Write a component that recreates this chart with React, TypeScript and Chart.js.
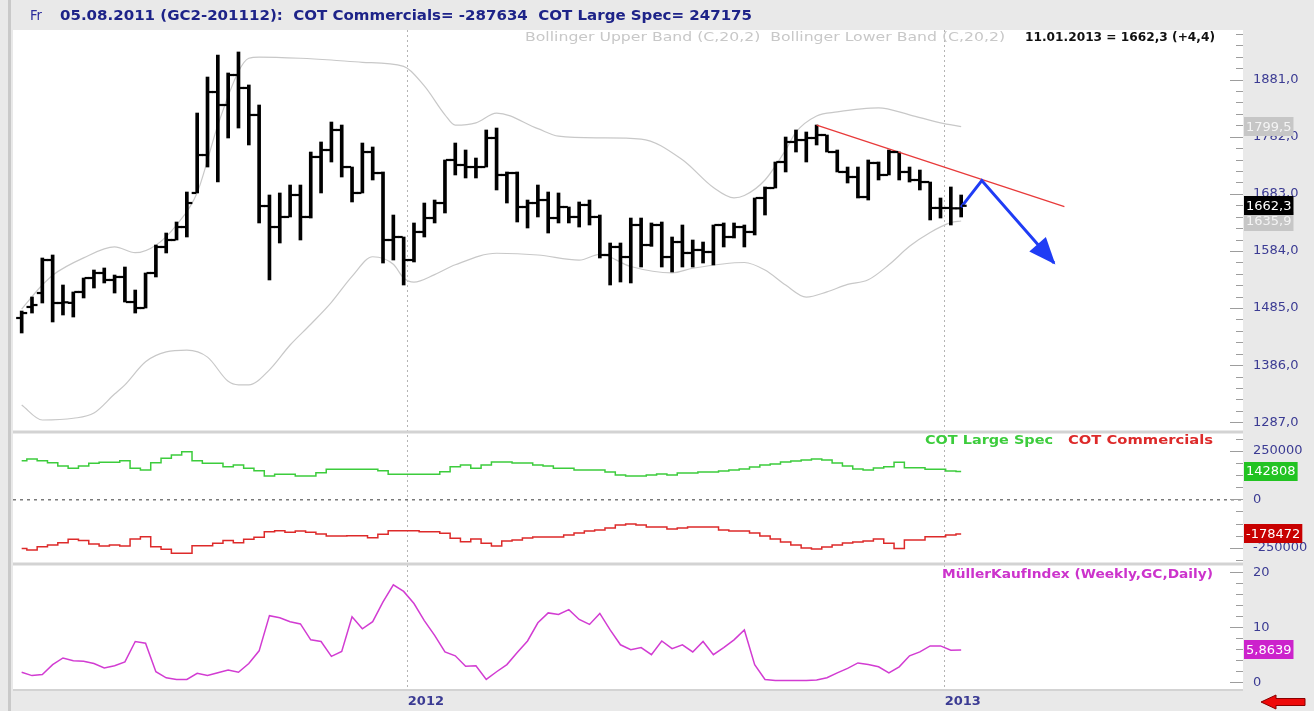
import React, { useEffect, useRef } from 'react';
import { Chart, registerables } from 'chart.js';

Chart.register(...registerables);

// ---------- DATA ----------
// Weekly OHLC bars (GC2), first bar mid-April 2011, last bar 11.01.2013
const barOpen = [
  1467.8, 1486.9, 1511.1, 1568.3, 1493.8, 1494.0, 1512.9, 1537.1, 1545.8, 1533.7,
  1538.9, 1495.5, 1485.1, 1545.8, 1590.9, 1603.0, 1625.5, 1684.5, 1750.3, 1859.5,
  1837.0, 1889.0, 1866.5, 1819.7, 1661.9, 1625.5, 1642.9, 1681.0, 1642.9, 1746.9,
  1759.0, 1793.7, 1729.5, 1684.5, 1755.5, 1719.1, 1603.0, 1608.2, 1568.3, 1616.9,
  1641.1, 1667.1, 1741.7, 1733.0, 1729.5, 1729.5, 1779.8, 1715.7, 1719.1, 1660.2,
  1667.1, 1672.3, 1641.1, 1660.2, 1642.9, 1663.7, 1642.9, 1577.0, 1590.9, 1573.5,
  1629.0, 1594.3, 1629.0, 1573.5, 1599.5, 1580.5, 1585.7, 1582.2, 1629.0, 1608.2,
  1625.5, 1616.9, 1675.8, 1693.1, 1738.2, 1772.9, 1776.3, 1779.8, 1785.0, 1755.5,
  1720.9, 1712.2, 1677.5, 1736.5, 1715.7, 1755.5, 1720.9, 1707.0, 1703.5, 1658.5,
  1658.5, 1657.9,
];
const barHigh = [
  1479.9, 1504.2, 1571.8, 1577.0, 1525.0, 1512.9, 1537.1, 1551.0, 1554.5, 1542.3,
  1556.2, 1516.3, 1545.8, 1594.3, 1615.1, 1634.2, 1686.2, 1823.1, 1885.5, 1923.7,
  1892.5, 1928.9, 1871.7, 1837.0, 1681.0, 1684.5, 1698.3, 1698.3, 1755.5, 1772.9,
  1807.5, 1802.3, 1729.5, 1771.1, 1764.2, 1720.9, 1646.3, 1608.2, 1632.5, 1667.1,
  1672.3, 1741.7, 1771.1, 1759.0, 1745.1, 1793.7, 1797.1, 1720.9, 1720.9, 1672.3,
  1698.3, 1686.2, 1684.5, 1660.2, 1668.9, 1672.3, 1646.3, 1597.8, 1597.8, 1641.1,
  1641.1, 1632.5, 1634.2, 1608.2, 1629.0, 1603.0, 1599.5, 1629.0, 1632.5, 1632.5,
  1629.0, 1675.8, 1694.9, 1738.2, 1781.5, 1793.7, 1790.2, 1802.3, 1785.0, 1759.0,
  1729.5, 1729.5, 1741.7, 1738.2, 1759.0, 1755.5, 1729.5, 1724.3, 1703.5, 1675.8,
  1694.9, 1681.0,
];
const barLow = [
  1441.8, 1476.4, 1493.8, 1460.9, 1473.0, 1469.5, 1502.5, 1519.8, 1528.5, 1511.1,
  1495.5, 1476.4, 1485.1, 1538.9, 1580.5, 1603.0, 1608.2, 1684.5, 1729.5, 1703.5,
  1779.8, 1797.1, 1767.7, 1632.5, 1533.7, 1597.8, 1642.9, 1603.0, 1641.1, 1684.5,
  1738.2, 1712.2, 1668.9, 1684.5, 1707.0, 1563.1, 1568.3, 1525.0, 1564.9, 1608.2,
  1632.5, 1649.8, 1715.7, 1710.5, 1710.5, 1729.5, 1689.7, 1667.1, 1634.2, 1623.8,
  1642.9, 1615.1, 1632.5, 1632.5, 1625.5, 1629.0, 1571.8, 1525.0, 1530.2, 1528.5,
  1556.2, 1592.0, 1556.2, 1547.5, 1556.2, 1556.2, 1563.1, 1559.7, 1590.9, 1606.5,
  1590.9, 1611.7, 1646.3, 1693.1, 1720.9, 1755.5, 1738.2, 1767.7, 1755.5, 1720.9,
  1701.8, 1675.8, 1672.3, 1707.0, 1715.7, 1707.0, 1703.5, 1689.7, 1637.7, 1641.1,
  1629.0, 1642.9,
];
const barClose = [
  1476.4, 1490.3, 1568.3, 1493.8, 1495.0, 1512.9, 1537.1, 1545.8, 1533.7, 1538.9,
  1495.5, 1485.1, 1545.8, 1590.9, 1603.0, 1625.5, 1667.1, 1750.3, 1859.5, 1837.0,
  1889.0, 1866.5, 1819.7, 1661.9, 1625.5, 1642.9, 1681.0, 1642.9, 1746.9, 1759.0,
  1793.7, 1729.5, 1684.5, 1755.5, 1719.1, 1603.0, 1608.2, 1568.3, 1616.9, 1641.1,
  1667.1, 1741.7, 1733.0, 1729.5, 1729.5, 1779.8, 1715.7, 1719.1, 1660.2, 1667.1,
  1672.3, 1641.1, 1660.2, 1642.9, 1663.7, 1642.9, 1577.0, 1590.9, 1573.5, 1629.0,
  1594.3, 1629.0, 1573.5, 1599.5, 1580.5, 1585.7, 1582.2, 1629.0, 1608.2, 1625.5,
  1616.9, 1675.8, 1693.1, 1738.2, 1772.9, 1776.3, 1779.8, 1785.0, 1755.5, 1720.9,
  1712.2, 1677.5, 1736.5, 1715.7, 1755.5, 1720.9, 1707.0, 1703.5, 1658.5, 1658.5,
  1657.9, 1662.3,
];

// Bollinger bands (C,20,2), read at selected bars
const bbUpperIdx = [0, 1, 2, 3, 6, 9, 11, 13, 15, 17, 19, 21, 22, 23, 27, 30, 33, 37, 39, 41, 42, 44, 46, 50, 52, 56, 60, 64, 67, 69, 70, 72, 74, 75, 77, 79, 83, 86, 89, 91];
const bbUpperVal = [1483, 1505, 1525, 1542, 1572, 1591, 1581, 1594, 1629, 1685, 1802, 1895, 1918, 1920, 1918, 1915, 1911, 1904, 1870, 1820, 1802, 1806, 1823, 1796, 1783, 1780, 1778, 1742, 1694, 1676, 1680, 1707, 1759, 1790, 1818, 1825, 1832, 1820, 1806, 1799.5];
const bbLowerIdx = [0, 2, 5, 7, 9, 10, 12, 14, 16, 18, 20, 21, 22, 24, 26, 28, 30, 32, 34, 36, 37, 38, 40, 42, 46, 50, 54, 56, 59, 63, 65, 70, 72, 74, 76, 78, 80, 82, 84, 86, 88, 90, 91];
const bbLowerVal = [1317, 1291, 1294, 1303, 1336, 1352, 1392, 1409, 1412, 1400, 1358, 1352, 1352, 1378, 1421, 1457, 1495, 1540, 1574, 1561, 1537, 1530, 1543, 1560, 1580, 1577, 1568, 1578, 1557, 1546, 1554, 1564, 1551, 1525, 1504, 1513, 1526, 1534, 1560, 1592, 1616, 1633, 1635.9];

// COT positions (weekly)
const cotLargeSpec = [
  199000, 208000, 199000, 189000, 172000, 160000, 172000, 186000, 191000, 191000,
  199000, 160000, 151000, 189000, 211000, 228000, 245000, 199000, 186000, 186000,
  168000, 177000, 160000, 147000, 120000, 129000, 129000, 120000, 120000, 137000,
  155000, 155000, 155000, 155000, 155000, 147000, 129000, 129000, 129000, 129000,
  129000, 142000, 168000, 177000, 160000, 177000, 192000, 192000, 187000, 187000,
  177000, 172000, 160000, 160000, 151000, 151000, 151000, 141000, 125000, 120000,
  120000, 125000, 130000, 125000, 136000, 136000, 141000, 141000, 146000, 151000,
  156000, 167000, 177000, 182000, 192000, 197000, 203000, 208000, 203000, 187000,
  172000, 156000, 151000, 161000, 168000, 191000, 163000, 163000, 155000, 155000,
  146000, 142808,
];
const cotCommercials = [
  -253000, -261000, -244000, -236000, -224000, -206000, -213000, -230000, -241000, -236000,
  -241000, -205000, -193000, -244000, -258000, -278000, -278000, -239000, -239000, -227000,
  -213000, -224000, -206000, -196000, -167000, -162000, -170000, -163000, -170000, -179000,
  -189000, -189000, -188000, -188000, -198000, -180000, -162000, -162000, -162000, -167000,
  -167000, -175000, -201000, -219000, -205000, -227000, -241000, -215000, -210000, -200000,
  -194000, -194000, -194000, -184000, -174000, -163000, -158000, -148000, -132000, -127000,
  -132000, -143000, -143000, -153000, -148000, -143000, -143000, -143000, -158000, -163000,
  -163000, -174000, -189000, -205000, -220000, -236000, -251000, -256000, -246000, -236000,
  -225000, -220000, -215000, -205000, -227000, -253000, -210000, -210000, -193000, -193000,
  -184000, -178472,
];

// MüllerKaufIndex (Weekly,GC,Daily)
const mki = [
  1.8, 1.2, 1.4, 3.2, 4.4, 3.9, 3.8, 3.4, 2.6, 3.0,
  3.7, 7.4, 7.1, 1.9, 0.8, 0.5, 0.5, 1.6, 1.2, 1.7,
  2.2, 1.8, 3.4, 5.7, 12.1, 11.7, 11.0, 10.6, 7.7, 7.4,
  4.7, 5.6, 11.9, 9.7, 11.0, 14.6, 17.7, 16.5, 14.3, 11.2,
  8.5, 5.5, 4.8, 2.9, 3.0, 0.5, 1.9, 3.2, 5.4, 7.5,
  10.8, 12.6, 12.3, 13.2, 11.4, 10.5, 12.5, 9.5, 6.8, 5.9,
  6.3, 5.0, 7.5, 6.1, 6.8, 5.5, 7.4, 5.0, 6.3, 7.7,
  9.5, 3.2, 0.5, 0.3, 0.3, 0.3, 0.3, 0.4, 0.8, 1.7,
  2.5, 3.5, 3.2, 2.8, 1.7, 2.8, 4.8, 5.5, 6.6, 6.6,
  5.8, 5.8639,
];

// drawn trend line and projected arrow (bar index, price)
const trendIdx = [77, 101];
const trendVal = [1802.3, 1660.7];
const arrowIdx = [91, 93, 100];
const arrowVal = [1660, 1706, 1563];

// axes
const yearTickIdx = [37.4, 89.4];
const yearTickLabels = ['2012', '2013'];
const mainTicks = [1287, 1386, 1485, 1584, 1683, 1782, 1881];
const cotTicks = [-250000, 0, 250000];
const mkiTicks = [0, 10, 20];

// texts
const headerPrefix = 'Fr';
const headerTitle = '05.08.2011 (GC2-201112):  COT Commercials= -287634  COT Large Spec= 247175';
const bbLegend = 'Bollinger Upper Band (C,20,2)  Bollinger Lower Band (C,20,2)';
const lastLegend = '11.01.2013 = 1662,3 (+4,4)';
const cotLsLabel = 'COT Large Spec';
const cotComLabel = 'COT Commercials';
const mkiLabel = 'MüllerKaufIndex (Weekly,GC,Daily)';

// ---------- LAYOUT / STYLE ----------
const W = 1314;
const H = 711;
const FONT = 'DejaVu Sans';
const AXIS_COLOR = '#3b3b93';

const fmtDec = (v: number, d: number) => v.toFixed(d).replace('.', ',');

function drawFitText(ctx: CanvasRenderingContext2D, text: string, x: number, y: number, width: number, size: number, weight: string, color: string) {
  ctx.save();
  ctx.font = `${weight} ${size}px "${FONT}"`;
  const w = ctx.measureText(text).width;
  ctx.translate(x, y);
  ctx.scale(width / w, 1);
  ctx.fillStyle = color;
  ctx.textAlign = 'left';
  ctx.textBaseline = 'middle';
  ctx.fillText(text, 0, 0);
  ctx.restore();
}

function valueBox(ctx: CanvasRenderingContext2D, y: number, text: string, bg: string, fg: string) {
  ctx.save();
  ctx.font = `13px "${FONT}"`;
  const w = ctx.measureText(text).width + 4;
  ctx.fillStyle = bg;
  ctx.fillRect(1244, Math.round(y - 9.5), w, 19);
  ctx.fillStyle = fg;
  ctx.textAlign = 'left';
  ctx.textBaseline = 'middle';
  ctx.fillText(text, 1246, y + 0.5);
  ctx.restore();
}

const decorPlugin = {
  id: 'decor',
  beforeDraw(chart: any) {
    const { ctx, chartArea: ca } = chart;
    ctx.save();
    ctx.fillStyle = '#e9e9e9';
    ctx.fillRect(0, 0, W, H);
    ctx.fillStyle = '#ffffff';
    ctx.fillRect(ca.left, ca.top, ca.right - ca.left, ca.bottom - ca.top);
    ctx.fillStyle = '#c9c9c9';
    ctx.fillRect(8, 0, 3, H);
    ctx.restore();
  },
  beforeDatasetsDraw(chart: any) {
    const { ctx, chartArea: ca, scales } = chart;
    ctx.save();
    ctx.fillStyle = '#d3d3d3';
    ctx.fillRect(ca.left, scales.yCot.top - 1.5, ca.right - ca.left, 3);
    ctx.fillRect(ca.left, scales.yMki.top - 1.5, ca.right - ca.left, 3);
    ctx.fillRect(ca.left, ca.bottom - 1, ca.right - ca.left, 2);
    ctx.restore();
  },
  afterDatasetsDraw(chart: any) {
    const { ctx, scales } = chart;
    const xs = scales.x;
    const ys = scales.yMain;
    ctx.save();
    // open / close ticks of the OHLC bars
    ctx.fillStyle = '#000000';
    for (let i = 0; i < barOpen.length; i++) {
      const x = xs.getPixelForValue(i);
      const yo = ys.getPixelForValue(barOpen[i]);
      const yc = ys.getPixelForValue(barClose[i]);
      ctx.fillRect(x - 5.5, yo - 1.1, 4.5, 2.2);
      ctx.fillRect(x + 1, yc - 1.1, 4.5, 2.2);
    }
    // arrow head on the projected path
    const n = arrowIdx.length;
    const x1 = xs.getPixelForValue(arrowIdx[n - 2]);
    const y1 = ys.getPixelForValue(arrowVal[n - 2]);
    const x2 = xs.getPixelForValue(arrowIdx[n - 1]);
    const y2 = ys.getPixelForValue(arrowVal[n - 1]);
    const a = Math.atan2(y2 - y1, x2 - x1);
    const len = 25;
    const half = 11;
    const bx = x2 - len * Math.cos(a);
    const by = y2 - len * Math.sin(a);
    ctx.fillStyle = '#1f3cf5';
    ctx.beginPath();
    ctx.moveTo(x2 + 2 * Math.cos(a), y2 + 2 * Math.sin(a));
    ctx.lineTo(bx + half * Math.sin(a), by - half * Math.cos(a));
    ctx.lineTo(bx - half * Math.sin(a), by + half * Math.cos(a));
    ctx.closePath();
    ctx.fill();
    ctx.restore();
  },
  afterDraw(chart: any) {
    const { ctx, chartArea: ca, scales } = chart;
    ctx.save();
    // tick marks on the inside of the right edge
    const panels = [
      { s: scales.yMain, base: 1287, step: 99, div: 5 },
      { s: scales.yCot, base: 0, step: 250000, div: 4 },
      { s: scales.yMki, base: 0, step: 10, div: 5 },
    ];
    ctx.strokeStyle = '#9d9d9d';
    ctx.lineWidth = 1;
    for (const p of panels) {
      const minor = p.step / p.div;
      const k0 = Math.ceil((p.s.min - p.base) / minor);
      const k1 = Math.floor((p.s.max - p.base) / minor);
      for (let k = k0; k <= k1; k++) {
        const v = p.base + k * minor;
        const y = Math.round(p.s.getPixelForValue(v)) + 0.5;
        if (y < p.s.top + 3 || y > p.s.bottom - 3) continue;
        const major = ((k % p.div) + p.div) % p.div === 0;
        ctx.beginPath();
        ctx.moveTo(ca.right - (major ? 13 : 7), y);
        ctx.lineTo(ca.right, y);
        ctx.stroke();
      }
    }
    ctx.restore();

    // last-value boxes on the right axis
    const last = barClose.length - 1;
    valueBox(ctx, scales.yMain.getPixelForValue(bbUpperVal[bbUpperVal.length - 1]), fmtDec(bbUpperVal[bbUpperVal.length - 1], 1), '#c6c6c6', '#f4f4f4');
    valueBox(ctx, scales.yMain.getPixelForValue(bbLowerVal[bbLowerVal.length - 1]), fmtDec(bbLowerVal[bbLowerVal.length - 1], 1), '#c6c6c6', '#f4f4f4');
    valueBox(ctx, scales.yMain.getPixelForValue(barClose[last]), fmtDec(barClose[last], 1), '#000000', '#ffffff');
    valueBox(ctx, scales.yCot.getPixelForValue(cotLargeSpec[last]), String(cotLargeSpec[last]), '#22c322', '#ffffff');
    valueBox(ctx, scales.yCot.getPixelForValue(cotCommercials[last]), String(cotCommercials[last]), '#c80000', '#ffffff');
    valueBox(ctx, scales.yMki.getPixelForValue(mki[last]), fmtDec(mki[last], 4), '#cc22cc', '#ffffff');

    // header and legends
    drawFitText(ctx, headerPrefix, 30, 16, 12, 14, 'normal', '#2b2b9b');
    drawFitText(ctx, headerTitle, 60, 16, 692, 14, 'bold', '#1d2388');
    drawFitText(ctx, bbLegend, 525, 38, 480, 13, 'normal', '#c8c8c8');
    drawFitText(ctx, lastLegend, 1025, 38, 190, 13, 'bold', '#111111');
    drawFitText(ctx, cotLsLabel, 925, 441, 128, 13, 'bold', '#3ccc3c');
    drawFitText(ctx, cotComLabel, 1068, 441, 145, 13, 'bold', '#dd2a2a');
    drawFitText(ctx, mkiLabel, 942, 575, 271, 13, 'bold', '#cc33cc');

    // red navigation arrow, bottom right
    ctx.save();
    ctx.fillStyle = '#ee0a0a';
    ctx.strokeStyle = '#8a0000';
    ctx.lineWidth = 1;
    ctx.beginPath();
    ctx.moveTo(1261, 702);
    ctx.lineTo(1276, 695);
    ctx.lineTo(1276, 698.5);
    ctx.lineTo(1305, 698.5);
    ctx.lineTo(1305, 705.5);
    ctx.lineTo(1276, 705.5);
    ctx.lineTo(1276, 709);
    ctx.closePath();
    ctx.fill();
    ctx.stroke();
    ctx.restore();
  },
};

const yTickFont = { family: FONT, size: 13 };

export default function App() {
  const ref = useRef<HTMLCanvasElement>(null);

  useEffect(() => {
    document.body.style.margin = '0';
    const idx = barOpen.map((_, i) => i);
    const chart = new Chart(ref.current as HTMLCanvasElement, {
      type: 'line',
      data: {
        datasets: [
          {
            label: 'Projection',
            data: arrowIdx.map((x, i) => ({ x, y: arrowVal[i] })),
            yAxisID: 'yMain',
            borderColor: '#1f3cf5',
            borderWidth: 3,
            pointRadius: 0,
            tension: 0,
          },
          {
            label: 'Trend',
            data: trendIdx.map((x, i) => ({ x, y: trendVal[i] })),
            yAxisID: 'yMain',
            borderColor: '#e83a3a',
            borderWidth: 1.3,
            pointRadius: 0,
            tension: 0,
          },
          {
            type: 'bar',
            label: 'GC2',
            data: idx.map((i) => ({ x: i, y: [barLow[i], barHigh[i]] })) as any,
            yAxisID: 'yMain',
            backgroundColor: '#000000',
            borderWidth: 0,
            barThickness: 3,
            grouped: false,
          } as any,
          {
            label: 'Bollinger Upper Band (C,20,2)',
            data: bbUpperIdx.map((x, i) => ({ x, y: bbUpperVal[i] })),
            yAxisID: 'yMain',
            borderColor: '#c8c8c8',
            borderWidth: 1.2,
            pointRadius: 0,
            cubicInterpolationMode: 'monotone',
          },
          {
            label: 'Bollinger Lower Band (C,20,2)',
            data: bbLowerIdx.map((x, i) => ({ x, y: bbLowerVal[i] })),
            yAxisID: 'yMain',
            borderColor: '#c8c8c8',
            borderWidth: 1.2,
            pointRadius: 0,
            cubicInterpolationMode: 'monotone',
          },
          {
            label: cotLsLabel,
            data: idx.map((i) => ({ x: i, y: cotLargeSpec[i] })),
            yAxisID: 'yCot',
            borderColor: '#3ccc3c',
            borderWidth: 1.5,
            pointRadius: 0,
            stepped: 'middle',
          },
          {
            label: cotComLabel,
            data: idx.map((i) => ({ x: i, y: cotCommercials[i] })),
            yAxisID: 'yCot',
            borderColor: '#dd2a2a',
            borderWidth: 1.5,
            pointRadius: 0,
            stepped: 'middle',
          },
          {
            label: mkiLabel,
            data: idx.map((i) => ({ x: i, y: mki[i] })),
            yAxisID: 'yMki',
            borderColor: '#d23cd2',
            borderWidth: 1.5,
            pointRadius: 0,
            tension: 0,
          },
        ] as any,
      },
      options: {
        responsive: false,
        animation: false,
        devicePixelRatio: 1,
        layout: { autoPadding: false, padding: { top: 30, left: 13, right: 0, bottom: 0 } },
        plugins: { legend: { display: false }, tooltip: { enabled: false } },
        scales: {
          x: {
            type: 'linear',
            min: -0.84,
            max: 118.3,
            offset: false,
            bounds: 'data',
            grid: { color: '#b4b4b4', lineWidth: 1, drawTicks: false, offset: false },
            border: { display: false, dash: [2, 3] },
            ticks: {
              align: 'start',
              maxRotation: 0,
              autoSkip: false,
              padding: 4,
              color: AXIS_COLOR,
              font: { family: FONT, size: 13, weight: 'bold' },
              callback: (_v: any, i: number) => yearTickLabels[i] ?? '',
            },
            afterBuildTicks: (s: any) => {
              s.ticks = yearTickIdx.map((v) => ({ value: v }));
            },
            afterFit: (s: any) => {
              s.height = 21;
            },
          },
          yMain: {
            type: 'linear',
            position: 'right',
            stack: 'panels',
            stackWeight: 402,
            min: 1270.2,
            max: 1967,
            bounds: 'data',
            grid: { display: false, drawTicks: false },
            border: { display: false },
            ticks: {
              autoSkip: false,
              padding: 10,
              color: AXIS_COLOR,
              font: yTickFont,
              callback: (v: any) => fmtDec(Number(v), 1),
            },
            afterBuildTicks: (s: any) => {
              s.ticks = mainTicks.map((v) => ({ value: v }));
            },
            afterFit: (s: any) => {
              s.width = 71;
            },
          },
          yCot: {
            type: 'linear',
            position: 'right',
            stack: 'panels',
            stackWeight: 132,
            min: -333500,
            max: 346900,
            bounds: 'data',
            grid: {
              drawTicks: false,
              lineWidth: 1.5,
              color: (c: any) => (c.tick && c.tick.value === 0 ? '#7a7a7a' : 'rgba(0,0,0,0)'),
            },
            border: { display: false, dash: [3, 4] },
            ticks: {
              autoSkip: false,
              padding: 10,
              color: AXIS_COLOR,
              font: yTickFont,
              callback: (v: any) => String(v),
            },
            afterBuildTicks: (s: any) => {
              s.ticks = cotTicks.map((v) => ({ value: v }));
            },
            afterFit: (s: any) => {
              s.width = 71;
            },
          },
          yMki: {
            type: 'linear',
            position: 'right',
            stack: 'panels',
            stackWeight: 126,
            min: -1.42,
            max: 21.49,
            bounds: 'data',
            grid: { display: false, drawTicks: false },
            border: { display: false },
            ticks: {
              autoSkip: false,
              padding: 10,
              color: AXIS_COLOR,
              font: yTickFont,
              callback: (v: any) => String(v),
            },
            afterBuildTicks: (s: any) => {
              s.ticks = mkiTicks.map((v) => ({ value: v }));
            },
            afterFit: (s: any) => {
              s.width = 71;
            },
          },
        } as any,
      },
      plugins: [decorPlugin],
    } as any);
    return () => chart.destroy();
  }, []);

  return (
    <div style={{ width: W, height: H }}>
      <canvas ref={ref} width={W} height={H} style={{ display: 'block', width: W, height: H }} />
    </div>
  );
}
